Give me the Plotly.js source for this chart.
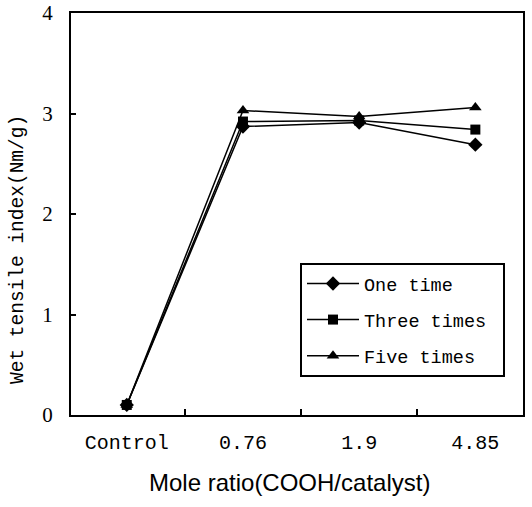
<!DOCTYPE html>
<html>
<head>
<meta charset="utf-8">
<script src="https://cdn.plot.ly/plotly-3.0.1.min.js"></script>
<style>html,body{margin:0;padding:0;background:#fff;}#chart{width:532px;height:507px;}</style>
</head>
<body>
<div id="chart"></div>
<script>
const categories = ["Control", "0.76", "1.9", "4.85"];
const oneTime = [0.10, 2.87, 2.91, 2.69];
const threeTimes = [0.10, 2.92, 2.93, 2.84];
const fiveTimes = [0.10, 3.03, 2.97, 3.06];
const seriesNames = ["One time", "Three times", "Five times"];
const yTicks = [0, 1, 2, 3, 4];
const xTitle = "Mole ratio(COOH/catalyst)";
const yTitle = "Wet tensile index(Nm/g)";

const xIdx = categories.map((c, i) => i);
const boundaries = xIdx.slice(1).map(i => i - 0.5);
const monoFont = "Liberation Mono, DejaVu Sans Mono, monospace";
const xRange = [-0.48, 3.41];

function series(name, y, symbol, size, g) {
  return {
    x: xIdx, y: y, name: name + "\u00a0", type: "scatter", mode: "lines+markers",
    legendgroup: g,
    line: {color: "#000", width: 1.5},
    marker: {symbol: symbol, size: size, color: "#000"}
  };
}

const data = [
  series(seriesNames[0], oneTime, "diamond", 11, "a"),
  series(seriesNames[1], threeTimes, "square", 10, "b"),
  series(seriesNames[2], fiveTimes, "triangle-up", 11, "c"),
  {x: xIdx, y: xIdx.map(() => 0), xaxis: "x2", yaxis: "y", mode: "markers",
   marker: {opacity: 0}, showlegend: false, hoverinfo: "skip"}
];

const layout = {
  width: 532, height: 507,
  margin: {l: 71, r: 9, t: 13, b: 92},
  paper_bgcolor: "#fff", plot_bgcolor: "#fff",
  showlegend: true,
  xaxis: {
    range: xRange,
    tickvals: boundaries, ticktext: boundaries.map(() => ""),
    ticks: "inside", ticklen: 6, tickwidth: 2, tickcolor: "#000",
    showgrid: false, zeroline: false,
    showline: true, linecolor: "#000", linewidth: 2, mirror: true
  },
  xaxis2: {
    overlaying: "x", range: xRange, anchor: "y", side: "bottom",
    tickvals: xIdx, ticktext: categories, ticks: "",
    ticklabelstandoff: 13,
    tickfont: {family: monoFont, size: 20, color: "#000"},
    showgrid: false, zeroline: false, showline: false
  },
  yaxis: {
    range: [0, 4], tickvals: yTicks,
    ticks: "inside", ticklen: 5, tickwidth: 2, tickcolor: "#000",
    ticklabelstandoff: 12,
    showgrid: false, zeroline: false,
    showline: true, linecolor: "#000", linewidth: 2, mirror: true,
    tickfont: {family: "Liberation Serif, Times New Roman, serif", size: 21, color: "#000"}
  },
  annotations: [
    {text: xTitle, xref: "paper", yref: "paper", x: (289 - 71) / 452, y: -(482 - 415) / 402,
     xanchor: "center", yanchor: "middle", showarrow: false,
     font: {family: "Liberation Sans, Arial, sans-serif", size: 24, color: "#000"}},
    {text: yTitle, xref: "paper", yref: "paper", x: -(71 - 18) / 452, y: (415 - 250) / 402,
     xanchor: "center", yanchor: "middle", showarrow: false, textangle: -90,
     font: {family: monoFont, size: 19.5, color: "#000"}}
  ],
  legend: {
    x: (300 - 71) / 452, y: (415 - 263) / 402, xanchor: "left", yanchor: "top",
    bordercolor: "#000", borderwidth: 2, bgcolor: "#fff",
    font: {family: monoFont, size: 18.5, color: "#000"},
    itemwidth: 52, tracegroupgap: 9
  }
};

Plotly.newPlot("chart", data, layout, {displayModeBar: false, staticPlot: true});
</script>
</body>
</html>
